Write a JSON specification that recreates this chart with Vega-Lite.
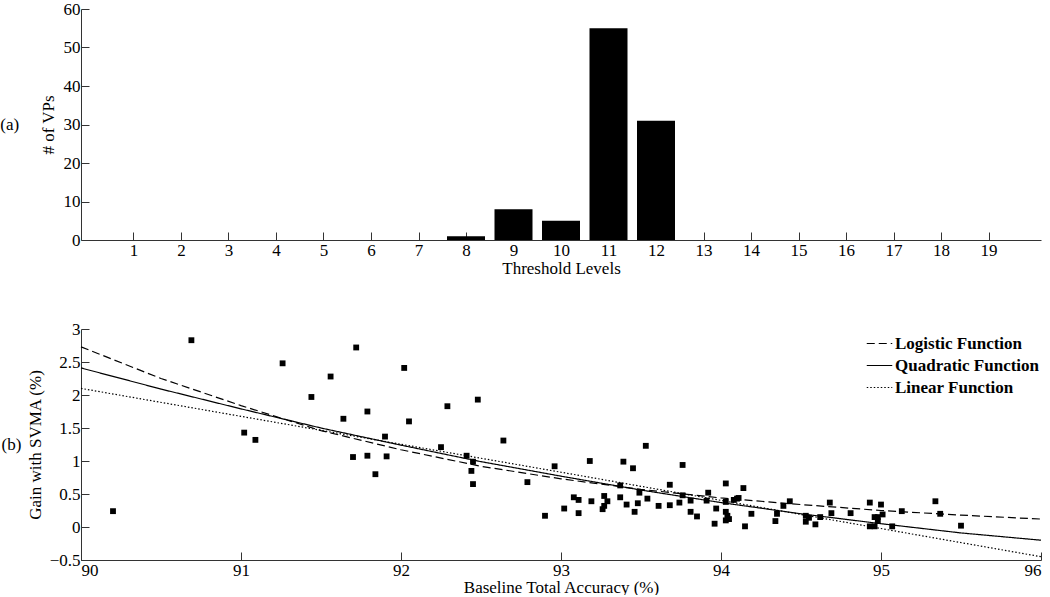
{
  "$schema": "https://vega.github.io/schema/vega-lite/v6.json",
  "padding": {"left": 0, "top": 0, "right": 8, "bottom": 0},
  "spacing": 44,
  "resolve": {"legend": {"strokeDash": "independent"}},
  "config": {
    "font": "Liberation Serif",
    "view": {"stroke": null},
    "axis": {
      "grid": false,
      "domainColor": "#333",
      "tickColor": "#333",
      "labelColor": "#000",
      "titleColor": "#000",
      "tickSize": -8,
      "labelPadding": 10,
      "labelFontSize": 17,
      "titleFontSize": 17,
      "titleFontWeight": "normal"
    },
    "title": {"fontSize": 17, "fontWeight": "normal", "color": "#000"}
  },
  "datasets": {
    "bars": [
      {"level": 8, "vps": 1},
      {"level": 9, "vps": 8},
      {"level": 10, "vps": 5},
      {"level": 11, "vps": 55},
      {"level": 12, "vps": 31}
    ],
    "points": [
      {"acc": 90.20, "gain": 0.24}, {"acc": 90.69, "gain": 2.83}, {"acc": 91.26, "gain": 2.48},
      {"acc": 91.72, "gain": 2.72}, {"acc": 91.56, "gain": 2.28}, {"acc": 91.44, "gain": 1.97},
      {"acc": 92.02, "gain": 2.41}, {"acc": 91.79, "gain": 1.75}, {"acc": 91.64, "gain": 1.64},
      {"acc": 92.05, "gain": 1.60}, {"acc": 92.48, "gain": 1.93}, {"acc": 92.29, "gain": 1.83},
      {"acc": 91.02, "gain": 1.43}, {"acc": 91.09, "gain": 1.32}, {"acc": 91.90, "gain": 1.37},
      {"acc": 91.70, "gain": 1.06}, {"acc": 91.79, "gain": 1.08}, {"acc": 91.91, "gain": 1.07},
      {"acc": 91.84, "gain": 0.80}, {"acc": 92.25, "gain": 1.21}, {"acc": 92.41, "gain": 1.08},
      {"acc": 92.45, "gain": 0.99}, {"acc": 92.44, "gain": 0.85}, {"acc": 92.45, "gain": 0.65},
      {"acc": 92.64, "gain": 1.31}, {"acc": 93.53, "gain": 1.23}, {"acc": 92.96, "gain": 0.92},
      {"acc": 93.18, "gain": 1.00}, {"acc": 93.39, "gain": 0.99}, {"acc": 93.45, "gain": 0.89},
      {"acc": 93.76, "gain": 0.94}, {"acc": 92.79, "gain": 0.68}, {"acc": 92.90, "gain": 0.17},
      {"acc": 93.02, "gain": 0.28}, {"acc": 93.08, "gain": 0.45}, {"acc": 93.11, "gain": 0.41},
      {"acc": 93.11, "gain": 0.21}, {"acc": 93.19, "gain": 0.39}, {"acc": 93.27, "gain": 0.47},
      {"acc": 93.29, "gain": 0.39}, {"acc": 93.27, "gain": 0.32}, {"acc": 93.26, "gain": 0.27},
      {"acc": 93.37, "gain": 0.63}, {"acc": 93.37, "gain": 0.45}, {"acc": 93.41, "gain": 0.34},
      {"acc": 93.48, "gain": 0.36}, {"acc": 93.46, "gain": 0.23}, {"acc": 93.49, "gain": 0.52},
      {"acc": 93.54, "gain": 0.43}, {"acc": 93.61, "gain": 0.32}, {"acc": 93.68, "gain": 0.64},
      {"acc": 93.68, "gain": 0.33}, {"acc": 93.74, "gain": 0.37}, {"acc": 93.76, "gain": 0.48},
      {"acc": 93.81, "gain": 0.40}, {"acc": 93.81, "gain": 0.23}, {"acc": 93.85, "gain": 0.16},
      {"acc": 93.92, "gain": 0.52}, {"acc": 93.91, "gain": 0.40}, {"acc": 93.97, "gain": 0.28},
      {"acc": 93.96, "gain": 0.05}, {"acc": 94.03, "gain": 0.66}, {"acc": 94.03, "gain": 0.38},
      {"acc": 94.03, "gain": 0.23}, {"acc": 94.04, "gain": 0.17}, {"acc": 94.05, "gain": 0.12},
      {"acc": 94.03, "gain": 0.10}, {"acc": 94.08, "gain": 0.41}, {"acc": 94.10, "gain": 0.43},
      {"acc": 94.11, "gain": 0.44}, {"acc": 94.14, "gain": 0.59}, {"acc": 94.15, "gain": 0.01},
      {"acc": 94.19, "gain": 0.20}, {"acc": 94.34, "gain": 0.09}, {"acc": 94.35, "gain": 0.20},
      {"acc": 94.39, "gain": 0.32}, {"acc": 94.43, "gain": 0.39}, {"acc": 94.53, "gain": 0.17},
      {"acc": 94.53, "gain": 0.08}, {"acc": 94.55, "gain": 0.14}, {"acc": 94.59, "gain": 0.04},
      {"acc": 94.62, "gain": 0.15}, {"acc": 94.68, "gain": 0.37}, {"acc": 94.69, "gain": 0.21},
      {"acc": 94.81, "gain": 0.21}, {"acc": 94.93, "gain": 0.37}, {"acc": 95.00, "gain": 0.34},
      {"acc": 95.01, "gain": 0.19}, {"acc": 94.96, "gain": 0.15}, {"acc": 94.98, "gain": 0.15},
      {"acc": 94.98, "gain": 0.09}, {"acc": 94.93, "gain": 0.01}, {"acc": 94.96, "gain": 0.01},
      {"acc": 95.07, "gain": 0.01}, {"acc": 95.13, "gain": 0.24}, {"acc": 95.34, "gain": 0.39},
      {"acc": 95.37, "gain": 0.20}, {"acc": 95.50, "gain": 0.02}
    ],
    "fits": [
      {"fit": "Logistic Function", "acc": 90.0, "gain": 2.73},
      {"fit": "Logistic Function", "acc": 90.5, "gain": 2.25},
      {"fit": "Logistic Function", "acc": 91.0, "gain": 1.84},
      {"fit": "Logistic Function", "acc": 91.5, "gain": 1.46},
      {"fit": "Logistic Function", "acc": 92.0, "gain": 1.17},
      {"fit": "Logistic Function", "acc": 92.5, "gain": 0.92},
      {"fit": "Logistic Function", "acc": 93.0, "gain": 0.73},
      {"fit": "Logistic Function", "acc": 93.5, "gain": 0.57},
      {"fit": "Logistic Function", "acc": 94.0, "gain": 0.44},
      {"fit": "Logistic Function", "acc": 94.5, "gain": 0.34},
      {"fit": "Logistic Function", "acc": 95.0, "gain": 0.25},
      {"fit": "Logistic Function", "acc": 95.5, "gain": 0.18},
      {"fit": "Logistic Function", "acc": 96.0, "gain": 0.12},
      {"fit": "Quadratic Function", "acc": 90.0, "gain": 2.41},
      {"fit": "Quadratic Function", "acc": 90.5, "gain": 2.09},
      {"fit": "Quadratic Function", "acc": 91.0, "gain": 1.79},
      {"fit": "Quadratic Function", "acc": 91.5, "gain": 1.50},
      {"fit": "Quadratic Function", "acc": 92.0, "gain": 1.24},
      {"fit": "Quadratic Function", "acc": 92.5, "gain": 0.99},
      {"fit": "Quadratic Function", "acc": 93.0, "gain": 0.77},
      {"fit": "Quadratic Function", "acc": 93.5, "gain": 0.56},
      {"fit": "Quadratic Function", "acc": 94.0, "gain": 0.37},
      {"fit": "Quadratic Function", "acc": 94.5, "gain": 0.20},
      {"fit": "Quadratic Function", "acc": 95.0, "gain": 0.05},
      {"fit": "Quadratic Function", "acc": 95.5, "gain": -0.09},
      {"fit": "Quadratic Function", "acc": 96.0, "gain": -0.20},
      {"fit": "Linear Function", "acc": 90.0, "gain": 2.10},
      {"fit": "Linear Function", "acc": 93.0, "gain": 0.83},
      {"fit": "Linear Function", "acc": 96.0, "gain": -0.45}
    ]
  },
  "vconcat": [
    {
      "width": 960,
      "height": 231,
      "title": {"text": "(a)", "orient": "left", "angle": 0, "align": "right", "baseline": "middle", "anchor": "middle", "offset": 1},
      "data": {"name": "bars"},
      "mark": {"type": "bar", "color": "#000", "width": 38},
      "encoding": {
        "x": {
          "field": "level", "type": "quantitative",
          "scale": {"domain": [0, 20], "nice": false},
          "axis": {"title": "Threshold Levels", "values": [1,2,3,4,5,6,7,8,9,10,11,12,13,14,15,16,17,18,19], "format": "d", "titlePadding": 2}
        },
        "y": {
          "field": "vps", "type": "quantitative",
          "scale": {"domain": [0, 60], "nice": false},
          "axis": {"title": "# of VPs", "values": [0,10,20,30,40,50,60], "labelPadding": 9, "titlePadding": 6}
        }
      }
    },
    {
      "width": 960,
      "height": 231,
      "title": {"text": "(b)", "orient": "left", "angle": 0, "align": "right", "baseline": "middle", "anchor": "middle", "offset": -15},
      "encoding": {
        "x": {
          "field": "acc", "type": "quantitative",
          "scale": {"domain": [90, 96], "nice": false},
          "axis": {"title": "Baseline Total Accuracy (%)", "values": [90,91,92,93,94,95,96], "format": "d", "titlePadding": 1}
        },
        "y": {
          "field": "gain", "type": "quantitative",
          "scale": {"domain": [-0.5, 3], "nice": false},
          "axis": {"title": "Gain with SVMA (%)", "values": [-0.5,0,0.5,1,1.5,2,2.5,3], "format": "~g", "labelPadding": 9, "titlePadding": 5}
        }
      },
      "layer": [
        {
          "data": {"name": "fits"},
          "mark": {"type": "line", "color": "#000", "strokeWidth": 1.2},
          "encoding": {
            "strokeDash": {
              "field": "fit", "type": "nominal",
              "scale": {
                "domain": ["Logistic Function", "Quadratic Function", "Linear Function"],
                "range": [[8, 4], [1, 0], [1.5, 2]]
              },
              "legend": {
                "title": null,
                "orient": "top-right",
                "offset": 1,
                "symbolType": "stroke",
                "symbolStrokeColor": "#000",
                "symbolStrokeWidth": 1.2,
                "symbolSize": 650,
                "labelFont": "Liberation Serif",
                "labelFontSize": 17,
                "labelFontWeight": "bold",
                "labelColor": "#000",
                "labelOffset": 2,
                "rowPadding": -4
              }
            }
          }
        },
        {
          "data": {"name": "points"},
          "mark": {"type": "square", "color": "#000", "opacity": 1, "size": 34}
        }
      ]
    }
  ]
}
